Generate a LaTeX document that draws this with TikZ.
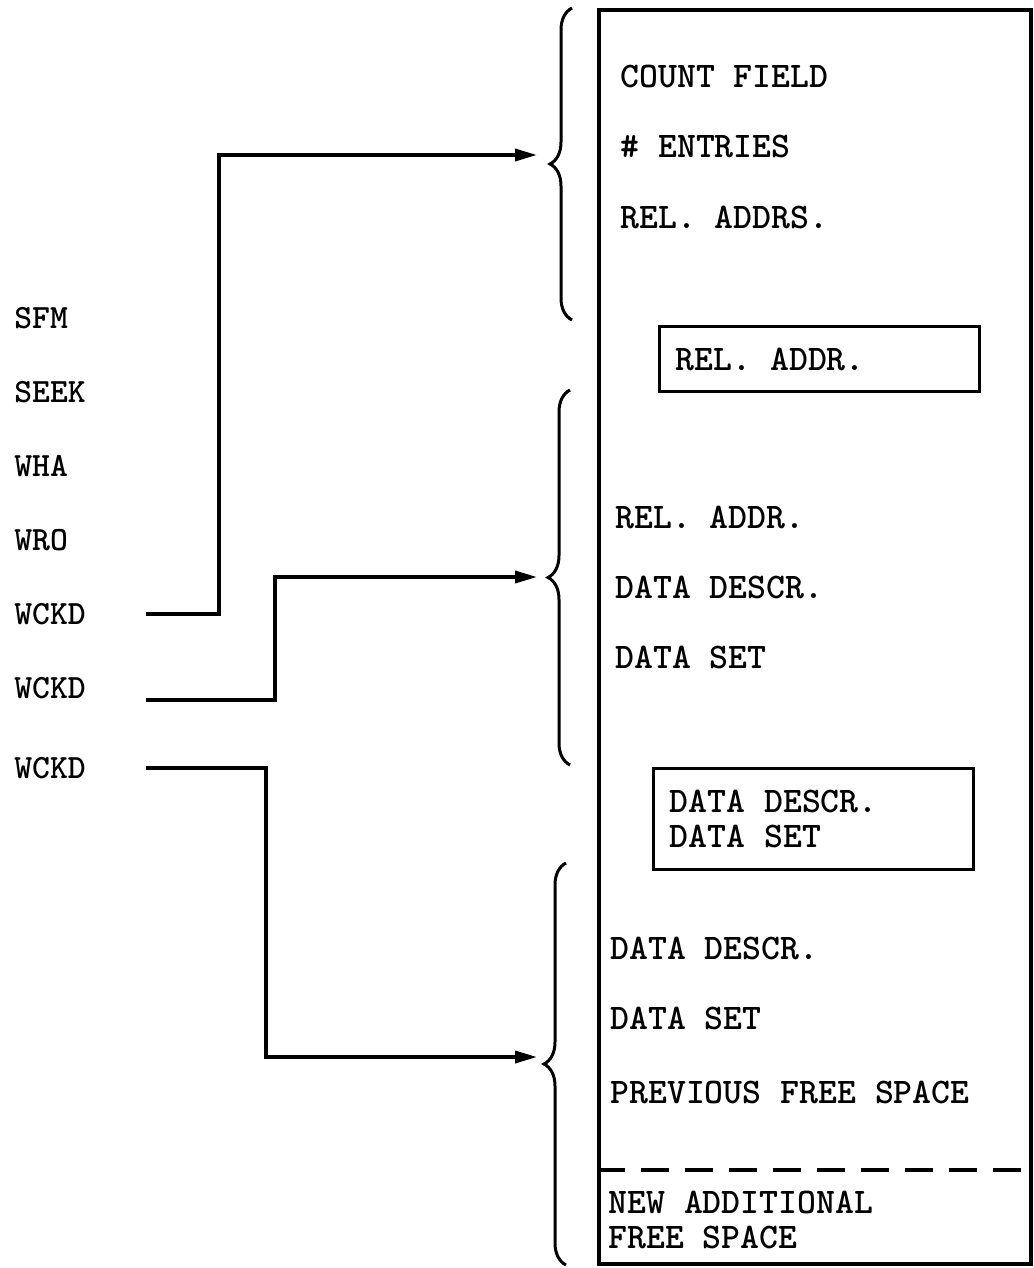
\documentclass[tikz,border=0pt]{standalone}
\usetikzlibrary{arrows.meta, positioning, decorations.pathreplacing}
\tikzset{
    entry/.style={anchor=west, inner sep=0pt, align=flush left,
        font=\ttfamily\bfseries\fontsize{18pt}{17.5pt}\selectfont},
    command/.style={anchor=west, inner sep=0pt,
        font=\ttfamily\bfseries\fontsize{17pt}{17pt}\selectfont},
    slot/.style={draw, line width=1.7pt, anchor=north west, inner xsep=8pt,
        text width=144pt, align=flush left,
        font=\ttfamily\bfseries\fontsize{18pt}{17.5pt}\selectfont},
    arrow/.style={-{Triangle[length=11pt, width=6pt]}, line width=1.8pt},
    bracket/.style={decorate, decoration={brace, amplitude=11pt}, line width=1.5pt}
}

\begin{document}
\begin{tikzpicture}[x=0.5pt, y=-0.5pt, node distance=35pt]
    \useasboundingbox (0,0) rectangle (1033,1268);

    \node[draw, line width=1.8pt, anchor=north west, inner sep=0pt,
        minimum width=216pt, minimum height=627pt] (record) at (597,8) {};

    \node[entry] (count) at (620,77) {COUNT FIELD};
    \node[entry, below=of count.west, anchor=west] (nentries) {\# ENTRIES};
    \node[entry, below=of nentries.west, anchor=west] (reladdrs) {REL. ADDRS.};

    \node[slot, minimum height=32.5pt] (addrslot) at (658,325) {REL. ADDR.};

    \node[entry] (reladdr) at (615,517) {REL. ADDR.};
    \node[entry, below=of reladdr.west, anchor=west] (descrA) {DATA DESCR.};
    \node[entry, below=of descrA.west, anchor=west] (setA) {DATA SET};

    \node[slot, minimum height=50.5pt] (dataslot) at (652,767) {DATA DESCR.\\DATA SET};

    \node[entry] (descrB) at (610,948) {DATA DESCR.};
    \node[entry, below=of descrB.west, anchor=west] (setB) {DATA SET};
    \node[entry, below=37pt of setB.west, anchor=west] (prevfree) {PREVIOUS FREE SPACE};
    \node[entry] (newfree) at (608,1220) {NEW ADDITIONAL\\FREE SPACE};

    \coordinate (cut) at (600,1170);
    \draw[dashed, line width=1.8pt, dash pattern=on 14pt off 8pt]
        (record.west |- cut) -- (record.east |- cut);

    \node[command] (sfm) at (14,318) {SFM};
    \node[command, below=37pt of sfm.west, anchor=west] (seek) {SEEK};
    \node[command, below=37pt of seek.west, anchor=west] (wha) {WHA};
    \node[command, below=37pt of wha.west, anchor=west] (wro) {WRO};
    \node[command, below=37pt of wro.west, anchor=west] (wckdA) {WCKD};
    \node[command, below=37pt of wckdA.west, anchor=west] (wckdB) {WCKD};
    \node[command, below=40pt of wckdB.west, anchor=west] (wckdC) {WCKD};

    \draw[bracket] (572,320) -- (572,8);
    \draw[bracket] (570,765) -- (570,390);
    \draw[bracket] (566,1265) -- (566,863);

    \coordinate (inA) at (537,155);
    \coordinate (inB) at (537,577);
    \coordinate (inC) at (537,1057);

    \draw[arrow] ([xshift=30pt]wckdA.east) -- ++(73,0) |- (inA);
    \draw[arrow] ([xshift=30pt, yshift=-6pt]wckdB.east) -- ++(129,0) |- (inB);
    \draw[arrow] ([xshift=30pt]wckdC.east) -- ++(120,0) |- (inC);

\end{tikzpicture}
\end{document}
